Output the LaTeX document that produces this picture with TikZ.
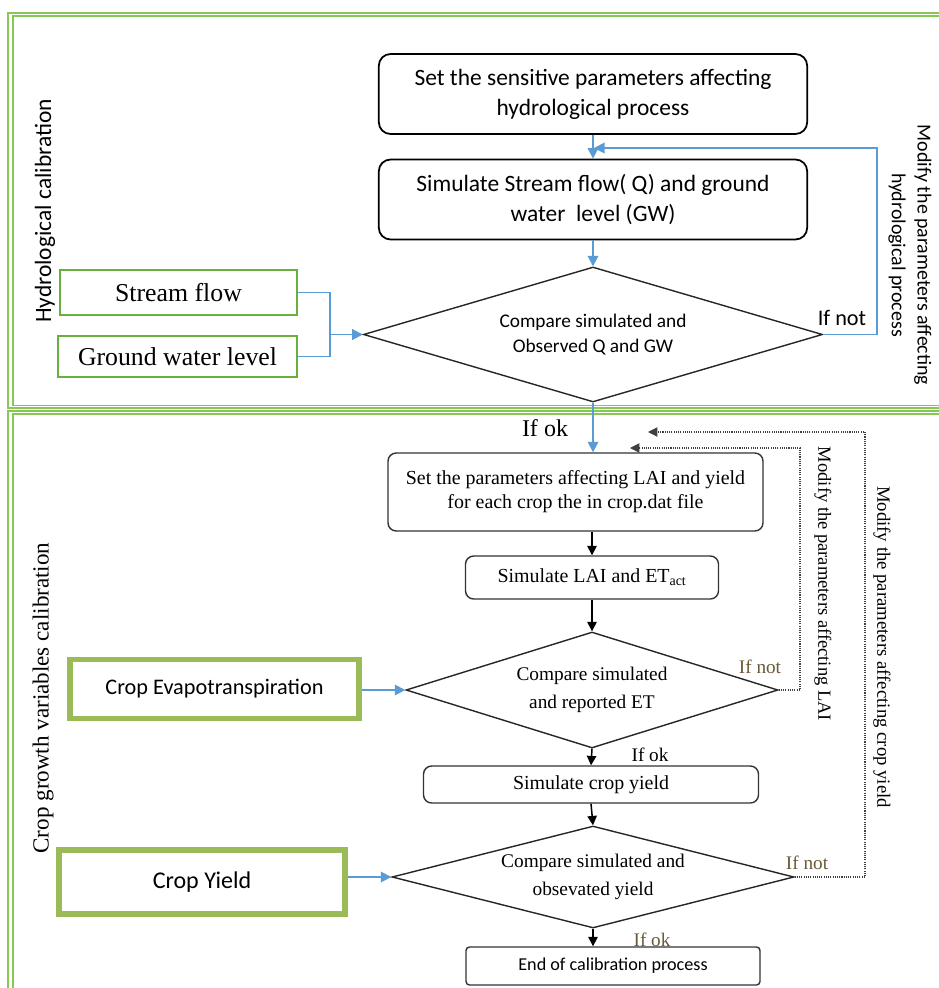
\documentclass[tikz,border=0pt]{standalone}
\usepackage{fontspec}
\setmainfont{Liberation Serif}
\newfontfamily\calibri{Carlito}
\usepackage{tikz}
\usetikzlibrary{arrows.meta,shapes.geometric,positioning,calc}
\definecolor{frameGreen}{RGB}{135,200,85}
\definecolor{inputGreen}{RGB}{105,175,60}
\definecolor{oliveGreen}{RGB}{155,187,89}
\definecolor{flowBlue}{RGB}{91,155,213}
\definecolor{noteBrown}{RGB}{105,88,55}
\tikzset{
  panel/.style={draw=frameGreen, line width=1.5pt},
  hydbox/.style={
    rectangle, rounded corners=10pt, draw=black, line width=1.5pt,
    align=center, minimum width=12.85cm, minimum height=2.4cm,
    font=\calibri\fontsize{20}{25.6}\selectfont
  },
  cropbox/.style={
    rectangle, rounded corners=7pt, draw=black!80, line width=1.2pt,
    align=center, font=\fontsize{17}{20.5}\selectfont
  },
  decision/.style={diamond, draw=black!85, line width=1.2pt, inner sep=0pt, align=center},
  inbox/.style={rectangle, draw=inputGreen, line width=2pt, font=\fontsize{22}{26}\selectfont},
  cropin/.style={rectangle, draw=oliveGreen, line width=5pt, font=\calibri\fontsize{19}{22}\selectfont},
  blueArrow/.style={draw=flowBlue, line width=1.6pt, -{Triangle[length=9pt,width=9pt]}},
  blueLine/.style={draw=flowBlue, line width=1.6pt},
  blackArrow/.style={draw=black, line width=1.3pt, -{Triangle[length=8pt,width=8pt]}},
  loopArrow/.style={draw=black!75, line width=0.9pt, densely dotted, -{Triangle[length=8pt,width=8pt]}}
}
\begin{document}
\begin{tikzpicture}[
    x=0.03cm, y=-0.03cm,
    lbl/.style={inner sep=0pt},
    note/.style={inner sep=0pt, text=noteBrown, font=\fontsize{16.4}{19}\selectfont}
  ]
    \useasboundingbox (0,0) rectangle (938,988);
    % the two calibration panels
    \draw[panel] (8,13) rectangle (960,408);
    \draw[panel] (13,16) rectangle (960,405.5);
    \draw[panel] (8,411) rectangle (960,1000);
    \draw[panel] (13,414) rectangle (960,1000);

    \node[lbl, rotate=90, font=\calibri\fontsize{20}{24}\selectfont] (hydlbl) at (45,211) {Hydrological calibration};
    \node[lbl, rotate=90, font=\fontsize{19.7}{24}\selectfont] (croplbl) at (43,698) {Crop growth variables calibration};

    % hydrological calibration
    \node[hydbox] (b1) at (593,94) {Set the sensitive parameters affecting\\hydrological process};
    \node[hydbox] (b2) at (593,199.5) {Simulate Stream flow( Q) and ground\\water\ \ level (GW)};
    \node[decision, aspect=3.4, minimum width=13.77cm, minimum height=4.05cm,
          font=\calibri\fontsize{16.5}{21}\selectfont] (d1) at (593,334.5) {Compare simulated and\\Observed Q and GW};
    \node[inbox, minimum width=7.11cm, minimum height=1.35cm] (sf) at (178.5,292.5) {Stream flow};
    \node[inbox, minimum width=7.17cm, minimum height=1.23cm] (gwl) at (177.5,356.5) {Ground water level};
    \coordinate (jn) at (330,334.5);
    \coordinate (fb) at (877,148);
    \coordinate (fbEnd) at (594,148);

    \draw[blueArrow] (b1.south) -- (b2.north);
    \draw[blueArrow] (b2.south) -- (d1.north);
    \draw[blueLine] (sf.east) -| (jn);
    \draw[blueLine] (gwl.east) -| (jn);
    \draw[blueArrow] (jn) -- (d1.west);
    \draw[blueArrow] (d1.east) -| (fb) -- (fbEnd);
    \node[lbl, font=\calibri\fontsize{19}{22}\selectfont] (ifnot1) at (842,318) {If not};
    \node[lbl, rotate=-90, align=center, font=\calibri\fontsize{17}{22}\selectfont] (modhyd) at (910,255)
          {Modify the parameters affecting\\hydrological process};

    % crop growth variables calibration
    \node[lbl, font=\fontsize{20.5}{24}\selectfont] (ifok1) at (545,428) {If ok};
    \node[cropbox, minimum width=11.25cm, minimum height=2.34cm] (b3) at (575.5,492)
          {Set the parameters affecting LAI and yield\\for each crop the in crop.dat file};
    \node[cropbox, minimum width=7.59cm, minimum height=1.29cm] (b4) at (592,577.5) {Simulate LAI and ET\textsubscript{act}};
    \node[decision, aspect=3.2, minimum width=11.16cm, minimum height=3.48cm,
          font=\fontsize{16.5}{24}\selectfont] (d2) at (592,690) {Compare simulated\\and reported ET};
    \node[cropbox, minimum width=10.05cm, minimum height=1.11cm] (b5) at (591,784.5) {Simulate crop yield};
    \node[decision, aspect=3.9, minimum width=12.06cm, minimum height=3.06cm,
          font=\fontsize{16.5}{24}\selectfont] (d3) at (593,877) {Compare simulated and\\obsevated yield};
    \node[note] (ifok3) at (652,940) {If ok};
    \node[cropbox, rounded corners=3pt, fill=white, minimum width=8.82cm, minimum height=1.14cm,
          font=\calibri\fontsize{15.5}{18}\selectfont] (b6) at (613,966) {End of calibration process};
    \node[cropin, minimum width=8.67cm, minimum height=1.77cm] (et) at (214.5,689) {Crop Evapotranspiration};
    \node[cropin, minimum width=8.58cm, minimum height=1.92cm, font=\calibri\fontsize{20.5}{24}\selectfont] (cy) at (202,882) {Crop Yield};

    \draw[blueArrow] (d1.south) -- (d1.south |- b3.north);
    \draw[blackArrow] (b4.north |- b3.south) -- (b4.north);
    \draw[blackArrow] (b4.south) -- (d2.north);
    \draw[blackArrow] (d2.south) -- (b5.north);
    \draw[blackArrow] (b5.south) -- (d3.north);
    \draw[blackArrow] (d3.south) -- (d3.south |- b6.north);
    \draw[blueArrow] (et.east |- d2.west) -- (d2.west);
    \draw[blueArrow] (cy.east |- d3.west) -- (d3.west);

    % feedback loops
    \coordinate (laiC) at (800,448);
    \coordinate (laiEnd) at (630,448);
    \coordinate (yldC) at (865,432);
    \coordinate (yldEnd) at (648,432);
    \draw[loopArrow] (d2.east) -| (laiC) -- (laiEnd);
    \draw[loopArrow] (d3.east) -| (yldC) -- (yldEnd);
    \node[note] (ifnot2) at (760,667) {If not};
    \node[note, text=black] (ifok2) at (650,755) {If ok};
    \node[note] (ifnot3) at (807,863) {If not};
    \node[lbl, rotate=-90, font=\fontsize{15.8}{19}\selectfont] (modlai) at (823,584) {Modify the parameters affecting LAI};
    \node[lbl, rotate=-90, font=\fontsize{16}{19}\selectfont] (modyld) at (882,647) {Modify the parameters affecting crop yield};
\end{tikzpicture}
\end{document}
